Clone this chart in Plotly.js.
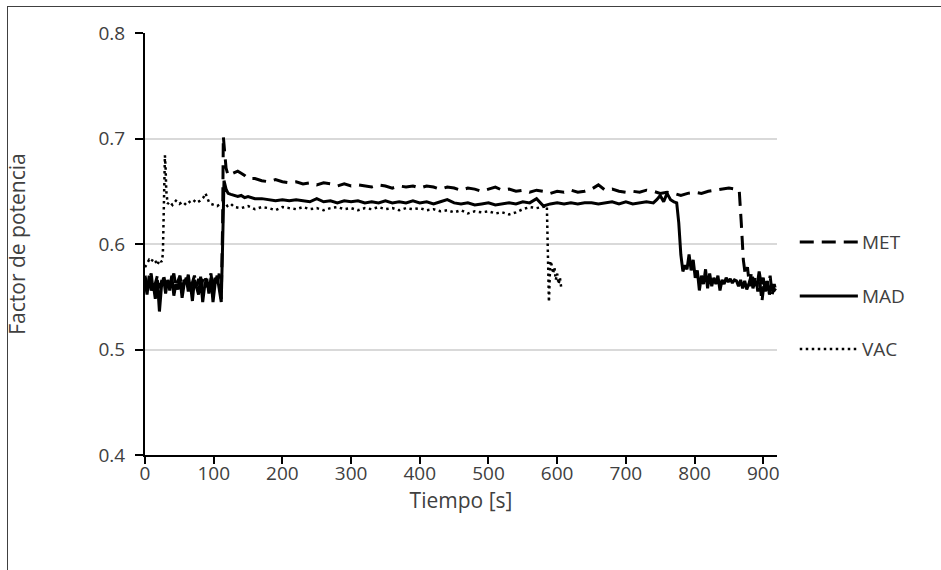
<!DOCTYPE html>
<html>
<head>
<meta charset="utf-8">
<script src="https://cdn.plot.ly/plotly-3.0.1.min.js"></script>
<style>
html,body{margin:0;padding:0;background:#fff;}
#wrap{position:relative;width:941px;height:570px;}
#chart{position:absolute;left:0;top:0;width:941px;height:570px;}
#frame{position:absolute;left:7px;top:6px;width:960px;height:600px;border-left:1px solid #404040;border-top:1px solid #404040;pointer-events:none;}
</style>
</head>
<body>
<div id="wrap"><div id="chart"></div><div id="frame"></div></div>
<script>
// ---- data ----
const seriesNames = ['MET', 'MAD', 'VAC'];

const tMET = [0,3,6,9,12,15,18,21,24,27,30,33,36,39,42,45,48,51,54,57,60,63,66,69,72,75,78,81,84,87,90,93,96,99,102,105,108,111,
  113,114,116,118,121,125,130,135,140,145,150,160,170,180,190,200,210,220,230,240,250,260,270,280,290,300,310,320,330,340,350,360,370,380,390,400,
  410,420,430,440,450,460,470,480,490,500,510,520,530,540,550,560,570,580,590,600,610,620,630,640,650,660,670,680,690,700,710,720,730,740,750,760,
  770,780,790,800,810,820,830,840,850,860,865,868,871,874,877,880,883,886,889,892,895,898,901,904,907,910,913,916,918];
const MET = [0.570,0.560,0.566,0.572,0.555,0.563,0.570,0.558,0.565,0.571,0.560,0.568,0.556,0.566,0.572,0.559,0.565,0.570,0.556,0.566,
  0.562,0.571,0.557,0.565,0.570,0.560,0.567,0.554,0.566,0.571,0.559,0.566,0.572,0.556,0.568,0.560,0.572,0.548,
  0.620,0.702,0.690,0.672,0.665,0.666,0.668,0.669,0.667,0.665,0.662,0.662,0.660,0.659,0.661,0.659,0.658,0.659,0.657,0.658,0.656,0.658,0.657,0.655,0.657,0.655,
  0.656,0.655,0.654,0.656,0.655,0.653,0.655,0.654,0.655,0.653,0.655,0.654,0.652,0.654,0.653,0.651,0.653,0.652,0.650,0.652,0.654,0.651,0.652,0.650,0.651,0.649,
  0.651,0.650,0.648,0.650,0.649,0.651,0.649,0.650,0.652,0.656,0.651,0.652,0.650,0.649,0.650,0.649,0.651,0.650,0.648,0.649,0.648,0.646,0.648,0.649,0.648,0.650,
  0.651,0.652,0.653,0.652,0.651,0.620,0.585,0.570,0.578,0.560,0.574,0.562,0.570,0.555,0.565,0.545,0.562,0.566,0.556,0.570,0.552,0.562,0.556];

const tMAD = [0,3,6,9,12,15,18,21,24,27,30,33,36,39,42,45,48,51,54,57,60,63,66,69,72,75,78,81,84,87,90,93,96,99,102,105,108,111,
  113,115,118,121,125,130,135,140,145,150,160,170,180,190,200,210,220,230,240,250,260,270,280,290,300,310,320,330,340,350,360,370,380,390,400,
  410,420,430,440,450,460,470,480,490,500,510,520,530,540,550,560,570,580,590,600,610,620,630,640,650,660,670,680,690,700,710,720,730,740,745,750,755,760,765,770,774,777,
  780,783,786,789,792,795,798,801,804,807,810,813,816,819,822,825,828,831,834,837,840,843,846,849,852,855,858,861,864,867,870,873,876,879,882,885,888,891,894,897,900,903,906,909,912,915,918];
const MAD = [0.565,0.552,0.570,0.556,0.562,0.548,0.566,0.536,0.560,0.568,0.553,0.566,0.558,0.570,0.551,0.562,0.557,0.567,0.549,0.562,
  0.568,0.555,0.563,0.546,0.566,0.558,0.552,0.569,0.545,0.561,0.567,0.553,0.568,0.545,0.562,0.570,0.556,0.545,
  0.600,0.660,0.652,0.648,0.647,0.646,0.645,0.646,0.644,0.645,0.643,0.643,0.642,0.641,0.642,0.641,0.642,0.641,0.640,0.643,0.640,0.641,0.639,0.641,0.640,0.641,0.639,0.640,0.639,0.641,0.639,0.640,0.639,0.641,0.639,
  0.640,0.638,0.640,0.642,0.639,0.638,0.639,0.637,0.638,0.639,0.637,0.638,0.639,0.638,0.640,0.639,0.643,0.636,0.638,0.639,0.638,0.639,0.638,0.639,0.639,0.638,0.639,0.640,0.638,0.640,0.638,0.639,0.640,0.639,0.642,0.646,0.640,0.648,0.642,0.640,0.639,0.620,
  0.590,0.574,0.580,0.576,0.590,0.575,0.585,0.568,0.575,0.556,0.570,0.562,0.576,0.558,0.572,0.560,0.568,0.562,0.570,0.556,0.566,0.562,0.568,0.564,0.567,0.563,0.566,0.565,0.560,0.566,0.558,0.565,0.557,0.562,0.569,0.558,0.565,0.560,0.574,0.562,0.568,0.555,0.565,0.552,0.562,0.555,0.558];

const tVAC = [0,3,6,9,12,15,18,21,24,26,27,28,29,30,31,33,36,40,45,50,55,60,65,70,75,80,85,88,90,93,96,100,105,110,115,120,125,130,140,150,
  160,170,180,190,200,210,220,230,240,250,260,270,280,290,300,310,320,330,340,350,360,370,380,390,400,410,420,430,440,450,460,470,480,490,500,
  510,520,530,540,550,560,570,580,585,588,590,592,594,596,598,600,602,604,606];
const VAC = [0.578,0.582,0.585,0.583,0.586,0.584,0.580,0.585,0.583,0.590,0.630,0.670,0.684,0.672,0.650,0.638,0.640,0.637,0.641,0.638,
  0.640,0.637,0.640,0.642,0.639,0.641,0.644,0.648,0.645,0.640,0.638,0.637,0.636,0.638,0.640,0.636,0.638,0.635,0.634,0.636,
  0.633,0.635,0.634,0.632,0.635,0.634,0.633,0.635,0.633,0.634,0.632,0.634,0.635,0.633,0.634,0.632,0.634,0.633,0.635,0.633,0.634,0.632,0.634,0.633,0.634,0.632,0.633,0.631,0.632,0.630,0.632,0.629,0.631,0.630,0.631,
  0.629,0.630,0.628,0.630,0.633,0.635,0.634,0.635,0.636,0.545,0.584,0.580,0.572,0.578,0.566,0.572,0.562,0.568,0.558];

const xTicks = [0,100,200,300,400,500,600,700,800,900];
const yTicks = [0.4,0.5,0.6,0.7,0.8];

// ---- styles ----
const styles = {
  MET: {color:'#000000', width:3, dash:'14px,8px'},
  MAD: {color:'#000000', width:3, dash:'solid'},
  VAC: {color:'#000000', width:2.5, dash:'2.5px,3.5px'}
};
const FONT = '"Open Sans", "Noto Sans", sans-serif';
const TXT = '#404040';

const xs = {MET:tMET, MAD:tMAD, VAC:tVAC};
const ys = {MET:MET, MAD:MAD, VAC:VAC};

const traces = seriesNames.map(n => ({
  type:'scatter', mode:'lines', name:n, x:xs[n], y:ys[n],
  line:{color:styles[n].color, width:styles[n].width, dash:styles[n].dash},
  showlegend:false, hoverinfo:'skip'
}));

// custom legend (long line samples, like the reference)
const legY = [0.505, 0.377, 0.251];
const shapes = [], annotations = [];
seriesNames.forEach((n,i) => {
  shapes.push({type:'line', xref:'paper', yref:'paper', x0:1.036, x1:1.128, y0:legY[i], y1:legY[i],
    line:{color:styles[n].color, width:styles[n].width, dash:styles[n].dash}});
  annotations.push({xref:'paper', yref:'paper', x:1.132, y:legY[i], xanchor:'left', yanchor:'middle',
    text:n, showarrow:false, font:{family:FONT, size:19, color:TXT}});
});

const layout = {
  width:941, height:570,
  margin:{l:145, r:164, t:33, b:115},
  paper_bgcolor:'rgba(0,0,0,0)', plot_bgcolor:'#ffffff',
  showlegend:false,
  font:{family:FONT, size:19, color:TXT},
  xaxis:{
    range:[0,920], tickvals:xTicks, ticktext:xTicks.map(String),
    showgrid:false, zeroline:false, showline:true, linecolor:'#000', linewidth:2,
    ticks:'outside', ticklen:7, tickwidth:2, tickcolor:'#000',
    ticklabelstandoff:-7,
    tickfont:{family:FONT, size:19, color:TXT},
    title:{text:'Tiempo [s]', font:{family:FONT, size:21, color:TXT}, standoff:1}
  },
  yaxis:{
    range:[0.4,0.8], tickvals:yTicks, ticktext:yTicks.map(v=>v.toFixed(1)),
    showgrid:true, gridcolor:'#d9d9d9', gridwidth:2, zeroline:false,
    showline:true, linecolor:'#000', linewidth:2,
    ticks:'outside', ticklen:8, tickwidth:2, tickcolor:'#000',
    ticklabelstandoff:6,
    tickfont:{family:FONT, size:19, color:TXT},
    title:{text:'Factor de potencia', font:{family:FONT, size:21, color:TXT}, standoff:67}
  },
  shapes:shapes, annotations:annotations
};

Plotly.newPlot('chart', traces, layout, {staticPlot:true, displayModeBar:false});
</script>
</body>
</html>
